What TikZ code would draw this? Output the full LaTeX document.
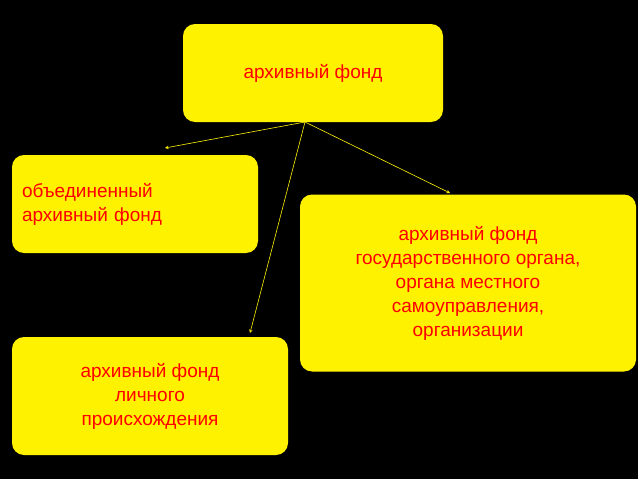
\documentclass[tikz,border=0pt]{standalone}
\usepackage{fontspec}
\setmainfont{Liberation Sans}
\begin{document}
\begin{tikzpicture}[x=1pt,y=-1pt,
  box/.style={fill=yellow,rounded corners=12pt,text=red,font=\fontsize{19}{24}\selectfont},
  link/.style={draw=yellow,line width=0.6pt,-stealth}]
\fill[black] (0,0) rectangle (638,479);
\useasboundingbox (0,0) rectangle (638,479);
\node[box,minimum width=260pt,minimum height=98pt] (top) at (313,73) {архивный фонд};
\node[box,minimum width=246pt,minimum height=98pt,align=left,text width=226pt,inner sep=4pt] (left) at (135,204) {объединенный\\архивный фонд};
\node[box,minimum width=336pt,minimum height=177pt,align=center] (right) at (468,283) {архивный фонд\\государственного органа,\\органа местного\\самоуправления,\\организации};
\node[box,minimum width=276pt,minimum height=118pt,align=center] (bot) at (150,396) {архивный фонд\\личного\\происхождения};
\coordinate (s) at (305,122);
\coordinate (el) at (165,148);
\coordinate (er) at (450,193);
\coordinate (eb) at (250,333);
\draw[link] (s) -- (el);
\draw[link] (s) -- (er);
\draw[link] (s) -- (eb);
\end{tikzpicture}
\end{document}
